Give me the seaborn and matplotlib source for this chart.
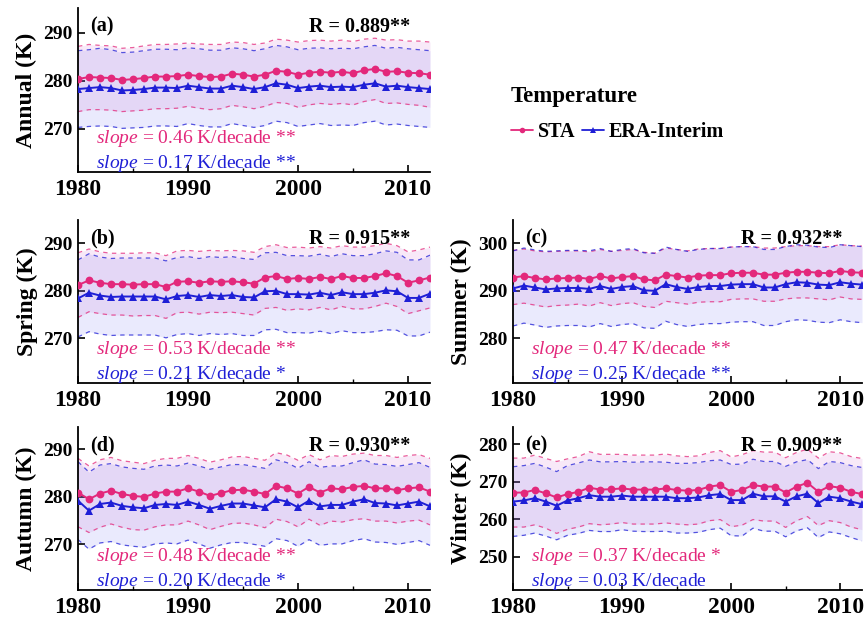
import matplotlib
matplotlib.use("Agg")
import numpy as np
import pandas as pd
import matplotlib.pyplot as plt
import seaborn as sns
from matplotlib.lines import Line2D
from matplotlib.ticker import MultipleLocator

# ---------------------------------------------------------------- data
years = list(range(1980, 2013))

# Annual
sta_annual = [280.4, 280.8, 280.7, 280.6, 280.2, 280.35, 280.6, 280.9, 280.9, 281.0,
              281.3, 281.0, 280.8, 280.9, 281.5, 281.3, 280.9, 281.3, 282.1, 281.9,
              281.3, 281.7, 281.9, 281.7, 281.9, 281.6, 282.2, 282.5, 281.9, 282.0,
              281.7, 281.6, 281.3]
era_annual = [278.3, 278.5, 278.7, 278.5, 278.0, 278.1, 278.3, 278.6, 278.6, 278.5,
              279.0, 278.7, 278.4, 278.4, 279.0, 278.7, 278.3, 278.7, 279.5, 279.2,
              278.5, 278.8, 279.0, 278.7, 278.8, 278.7, 279.2, 279.5, 278.8, 279.0,
              278.7, 278.5, 278.3]
sta_sd_annual = [6.8, 6.8, 6.7, 6.7, 6.6, 6.6, 6.7, 6.7, 6.7, 6.7,
                 6.6, 6.7, 6.8, 6.7, 6.6, 6.7, 6.7, 6.6, 6.6, 6.6,
                 6.8, 6.7, 6.6, 6.6, 6.6, 6.6, 6.5, 6.4, 6.6, 6.6,
                 6.6, 6.7, 6.8]
era_sd_annual = [8.0, 8.0, 8.1, 8.0, 7.9, 7.9, 8.0, 8.0, 8.0, 8.0,
                 7.9, 8.0, 8.0, 8.0, 7.9, 8.0, 8.0, 8.0, 7.9, 7.9,
                 8.0, 8.0, 7.9, 8.0, 8.0, 8.0, 7.9, 7.9, 8.0, 8.0,
                 8.0, 8.0, 8.0]

# Spring
sta_spring = [281.2, 282.2, 281.7, 281.4, 281.4, 281.3, 281.4, 281.4, 280.8, 281.9,
              282.0, 281.7, 282.0, 281.9, 282.0, 281.8, 281.5, 282.8, 283.1, 282.5,
              282.7, 282.5, 282.9, 282.5, 283.1, 282.7, 282.7, 283.1, 283.7, 283.1,
              281.7, 282.2, 282.8]
era_spring = [278.4, 279.6, 279.0, 278.7, 278.8, 278.8, 278.8, 278.8, 278.2, 278.9,
              279.1, 278.7, 279.1, 278.9, 279.1, 278.7, 278.6, 279.9, 280.0, 279.3,
              279.3, 279.2, 279.6, 279.1, 279.7, 279.3, 279.3, 279.6, 280.1, 279.9,
              278.5, 278.5, 279.4]
sta_sd_spring = [6.8, 6.6, 6.5, 6.5, 6.5, 6.6, 6.6, 6.6, 6.6, 6.5,
                 6.5, 6.6, 6.5, 6.5, 6.5, 6.6, 6.6, 6.5, 6.6, 6.6,
                 6.5, 6.5, 6.4, 6.5, 6.4, 6.5, 6.5, 6.4, 6.3, 6.4,
                 6.5, 6.4, 6.4]
era_sd_spring = [8.1, 8.2, 8.1, 8.1, 8.1, 8.1, 8.1, 8.1, 8.1, 8.1,
                 8.1, 8.1, 8.1, 8.1, 8.1, 8.1, 8.0, 8.1, 8.1, 8.1,
                 8.1, 8.1, 8.1, 8.1, 8.1, 8.1, 8.1, 8.2, 8.3, 8.2,
                 8.0, 8.0, 8.1]

# Summer
sta_summer = [292.8, 293.1, 292.7, 292.4, 292.6, 292.7, 292.8, 292.5, 293.1, 292.6,
              292.9, 293.1, 292.4, 292.2, 293.4, 293.1, 292.8, 293.2, 293.3, 293.3,
              293.7, 293.8, 293.8, 293.4, 293.4, 293.8, 294.0, 294.0, 293.8, 293.7,
              294.2, 293.9, 293.8]
era_summer = [290.5, 291.1, 290.7, 290.3, 290.5, 290.6, 290.6, 290.4, 291.0, 290.4,
              290.8, 291.0, 290.1, 290.0, 291.4, 290.8, 290.4, 290.8, 291.0, 291.0,
              291.3, 291.4, 291.4, 290.7, 290.7, 291.4, 291.8, 291.7, 291.3, 291.2,
              291.8, 291.5, 291.3]
sta_sd_summer = [5.7, 5.7, 5.7, 5.8, 5.7, 5.7, 5.6, 5.7, 5.6, 5.7,
                 5.6, 5.6, 5.7, 5.7, 5.6, 5.6, 5.6, 5.6, 5.6, 5.6,
                 5.5, 5.5, 5.5, 5.6, 5.6, 5.5, 5.5, 5.5, 5.5, 5.6,
                 5.5, 5.6, 5.6]
era_sd_summer = [7.9, 7.9, 7.9, 8.0, 7.9, 7.9, 7.9, 8.0, 7.9, 7.9,
                 7.9, 7.9, 7.9, 7.9, 7.8, 7.9, 7.9, 7.9, 7.9, 7.9,
                 7.9, 7.9, 7.9, 8.0, 8.0, 7.9, 7.9, 7.9, 7.9, 7.9,
                 7.9, 8.0, 8.0]

# Autumn
sta_autumn = [280.9, 279.5, 280.7, 281.3, 280.6, 280.2, 280.0, 280.7, 281.1, 281.1,
              281.8, 281.1, 280.2, 280.8, 281.4, 281.5, 281.1, 280.6, 282.3, 281.8,
              280.7, 282.1, 280.9, 281.8, 281.6, 282.1, 282.3, 281.8, 281.8, 281.4,
              281.8, 282.0, 281.1]
era_autumn = [279.2, 277.1, 278.5, 278.8, 278.1, 277.8, 277.6, 278.3, 278.5, 278.3,
              279.0, 278.3, 277.5, 278.1, 278.6, 278.6, 278.2, 277.8, 279.5, 279.0,
              277.8, 279.2, 278.0, 278.3, 278.3, 279.0, 279.5, 278.7, 278.6, 278.2,
              278.6, 279.0, 278.0]
sta_sd_autumn = [7.2, 7.0, 7.1, 7.0, 7.0, 7.1, 7.0, 7.0, 7.0, 7.0,
                 6.9, 7.0, 7.1, 7.0, 7.0, 7.0, 7.0, 7.1, 7.0, 7.0,
                 7.0, 6.8, 6.9, 6.9, 6.9, 6.9, 6.9, 6.9, 6.9, 6.9,
                 6.9, 6.9, 7.0]
era_sd_autumn = [8.2, 8.1, 8.2, 8.2, 8.2, 8.2, 8.2, 8.2, 8.2, 8.2,
                 8.1, 8.2, 8.3, 8.2, 8.2, 8.2, 8.2, 8.2, 8.3, 8.2,
                 8.2, 8.2, 8.2, 8.2, 8.2, 8.2, 8.3, 8.2, 8.2, 8.2,
                 8.2, 8.2, 8.2]

# Winter
sta_winter = [267.1, 267.1, 267.8, 266.9, 265.8, 266.7, 267.3, 268.4, 267.9, 268.0,
              268.2, 267.9, 267.9, 267.9, 268.2, 267.8, 267.6, 267.8, 268.7, 269.1,
              267.3, 267.8, 269.1, 268.7, 268.7, 267.1, 268.7, 269.7, 267.3, 268.8,
              268.4, 267.3, 266.7]
era_winter = [264.7, 265.0, 265.6, 264.7, 263.6, 265.0, 265.6, 266.4, 266.0, 266.0,
              266.3, 266.0, 266.0, 266.0, 266.0, 265.6, 265.6, 265.8, 266.4, 266.7,
              265.1, 265.1, 266.8, 266.1, 266.1, 264.7, 266.1, 266.8, 264.3, 266.0,
              265.6, 264.7, 264.0]
sta_sd_winter = [9.2, 9.2, 9.3, 9.3, 9.6, 9.4, 9.4, 9.6, 9.4, 9.3,
                 9.1, 9.2, 9.2, 9.2, 9.2, 9.1, 9.1, 9.1, 9.1, 9.2,
                 9.3, 9.4, 9.2, 9.2, 9.2, 9.3, 9.1, 9.0, 9.0, 9.2,
                 9.3, 9.4, 9.5]
era_sd_winter = [9.3, 9.3, 9.3, 9.2, 9.1, 9.3, 9.4, 9.4, 9.3, 9.3,
                 9.1, 9.2, 9.3, 9.3, 9.2, 9.3, 9.3, 9.3, 9.2, 9.1,
                 9.5, 9.6, 9.2, 9.3, 9.3, 9.4, 9.2, 9.1, 9.2, 9.4,
                 9.5, 9.6, 9.8]

panel_tags = ["(a)", "(b)", "(c)", "(d)", "(e)"]
season_labels = ["Annual (K)", "Spring (K)", "Summer (K)", "Autumn (K)", "Winter (K)"]
r_labels = ["R = 0.889**", "R = 0.915**", "R = 0.932**", "R = 0.930**", "R = 0.909**"]
sta_slopes = ["0.46 K/decade **", "0.53 K/decade **", "0.47 K/decade **",
              "0.48 K/decade **", "0.37 K/decade *"]
era_slopes = ["0.17 K/decade **", "0.21 K/decade *", "0.25 K/decade **",
              "0.20 K/decade *", "0.03 K/decade"]
y_ticks = [[270, 280, 290], [270, 280, 290], [280, 290, 300],
           [270, 280, 290], [250, 260, 270, 280]]
x_ticks = [1980, 1990, 2000, 2010]

sta_series = [sta_annual, sta_spring, sta_summer, sta_autumn, sta_winter]
era_series = [era_annual, era_spring, era_summer, era_autumn, era_winter]
sta_sds = [sta_sd_annual, sta_sd_spring, sta_sd_summer, sta_sd_autumn, sta_sd_winter]
era_sds = [era_sd_annual, era_sd_spring, era_sd_summer, era_sd_autumn, era_sd_winter]

# ---------------------------------------------------------------- style
sns.set_theme(style="ticks")
plt.rcParams.update({
    "font.family": ["Liberation Serif", "DejaVu Serif"],
    "mathtext.fontset": "custom",
    "mathtext.rm": "Liberation Serif",
    "mathtext.it": "Liberation Serif:italic",
    "mathtext.bf": "Liberation Serif:bold",
    "axes.edgecolor": "black",
    "axes.labelcolor": "black",
    "text.color": "black",
    "xtick.color": "black",
    "ytick.color": "black",
    "axes.linewidth": 1.3,
    "xtick.direction": "in",
    "ytick.direction": "in",
})

PINK = "#e3287b"
BLUE = "#1f1fd6"
STA_FILL = "#d070d0"
ERA_FILL = "#6060f0"

W, H = 865, 619
fig = plt.figure(figsize=(W / 100, H / 100), dpi=100)

# axes boxes in pixels: left, top, right, bottom
boxes = [(78, 8, 430, 172), (78, 220, 430, 383), (513, 220, 862, 383),
         (78, 427, 430, 590), (513, 427, 862, 590)]
ylims = [(261.0, 295.2), (260.6, 294.9), (270.6, 304.9), (260.4, 294.7), (241.1, 284.6)]

for i in range(5):
    l, t, r, b = boxes[i]
    ax = fig.add_axes([l / W, 1 - b / H, (r - l) / W, (b - t) / H])

    df = pd.DataFrame({
        "year": years,
        "sta": sta_series[i], "era": era_series[i],
        "sta_sd": sta_sds[i], "era_sd": era_sds[i],
    })
    df["sta_hi"] = df["sta"] + df["sta_sd"]
    df["sta_lo"] = df["sta"] - df["sta_sd"]
    df["era_hi"] = df["era"] + df["era_sd"]
    df["era_lo"] = df["era"] - df["era_sd"]

    # +/- one standard deviation envelopes
    ax.fill_between(df["year"], df["sta_lo"], df["sta_hi"], color=STA_FILL,
                    alpha=0.15, lw=0, zorder=1)
    ax.fill_between(df["year"], df["era_lo"], df["era_hi"], color=ERA_FILL,
                    alpha=0.13, lw=0, zorder=1)
    for col, c in [("sta_hi", PINK), ("sta_lo", PINK), ("era_hi", BLUE), ("era_lo", BLUE)]:
        sns.lineplot(data=df, x="year", y=col, ax=ax, color=c, lw=0.9, alpha=0.75,
                     linestyle=(0, (3.5, 3.5)), zorder=2)

    # yearly means
    sns.lineplot(data=df, x="year", y="sta", ax=ax, color=PINK, lw=1.4,
                 marker="o", markersize=5.6, markeredgewidth=0, zorder=4)
    sns.lineplot(data=df, x="year", y="era", ax=ax, color=BLUE, lw=1.4,
                 marker="^", markersize=6.3, markeredgewidth=0, zorder=3)

    ax.set_xlim(1980, 2012)
    ax.set_ylim(*ylims[i])
    ax.set_xticks(x_ticks)
    ax.set_xticklabels([str(x) for x in x_ticks])
    ax.xaxis.set_minor_locator(MultipleLocator(5))
    ax.set_yticks(y_ticks[i])
    ax.set_yticklabels([str(y) for y in y_ticks[i]])
    ax.tick_params(axis="x", which="major", length=5, width=1.2, labelsize=17, pad=5)
    ax.tick_params(axis="x", which="minor", length=3, width=1.0)
    ax.tick_params(axis="y", which="major", length=5, width=1.2, labelsize=14, pad=4)
    for lab in ax.get_xticklabels() + ax.get_yticklabels():
        lab.set_fontweight("bold")
    ax.set_xlabel("")
    ax.set_ylabel(season_labels[i], fontsize=17, fontweight="bold", labelpad=4)
    sns.despine(ax=ax)

    ax.text(0.034, 0.885, panel_tags[i], transform=ax.transAxes, fontsize=14.5,
            fontweight="bold", ha="left", va="center")
    ax.text(0.943, 0.885, r_labels[i], transform=ax.transAxes, fontsize=14.5,
            fontweight="bold", ha="right", va="center")
    ax.text(0.052, 0.175, r"$\mathit{slope}$ = " + sta_slopes[i], transform=ax.transAxes,
            fontsize=14, color=PINK, ha="left", va="baseline", zorder=6)
    ax.text(0.052, 0.025, r"$\mathit{slope}$ = " + era_slopes[i], transform=ax.transAxes,
            fontsize=14, color=BLUE, ha="left", va="baseline", zorder=6)

handles = [Line2D([], [], color=PINK, lw=1.3, marker="o", markersize=4, markeredgewidth=0),
           Line2D([], [], color=BLUE, lw=1.3, marker="^", markersize=4.5, markeredgewidth=0)]
fig.legend(handles=handles, labels=["STA", "ERA-Interim"], loc="upper left",
           bbox_to_anchor=(511 / W, 1 - 86 / H), ncol=2, frameon=False,
           title="Temperature", title_fontproperties={"weight": "bold", "size": 16.5},
           prop={"weight": "bold", "size": 14.5}, alignment="left",
           handlelength=1.1, handletextpad=0.25, columnspacing=0.3,
           borderpad=0, borderaxespad=0, labelspacing=0.75)

fig.savefig("out.png", dpi=100)
